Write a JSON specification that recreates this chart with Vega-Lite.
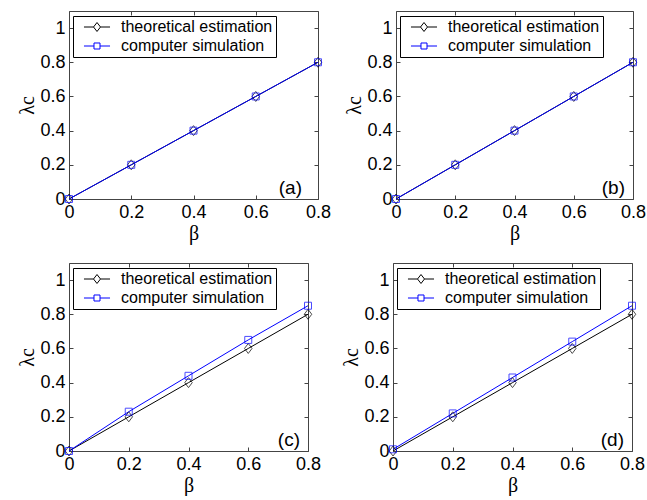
{
  "$schema": "https://vega.github.io/schema/vega-lite/v6.json",
  "background": "white",
  "padding": {"top": 10, "left": 17, "right": 0, "bottom": 0},
  "datasets": {
    "pts": [
      {"panel": "a", "series": "theoretical estimation", "beta": 0, "lambda": 0},
      {"panel": "a", "series": "theoretical estimation", "beta": 0.2, "lambda": 0.2},
      {"panel": "a", "series": "theoretical estimation", "beta": 0.4, "lambda": 0.4},
      {"panel": "a", "series": "theoretical estimation", "beta": 0.6, "lambda": 0.6},
      {"panel": "a", "series": "theoretical estimation", "beta": 0.8, "lambda": 0.8},
      {"panel": "a", "series": "computer simulation", "beta": 0, "lambda": 0},
      {"panel": "a", "series": "computer simulation", "beta": 0.2, "lambda": 0.2},
      {"panel": "a", "series": "computer simulation", "beta": 0.4, "lambda": 0.4},
      {"panel": "a", "series": "computer simulation", "beta": 0.6, "lambda": 0.6},
      {"panel": "a", "series": "computer simulation", "beta": 0.8, "lambda": 0.8},
      {"panel": "b", "series": "theoretical estimation", "beta": 0, "lambda": 0},
      {"panel": "b", "series": "theoretical estimation", "beta": 0.2, "lambda": 0.2},
      {"panel": "b", "series": "theoretical estimation", "beta": 0.4, "lambda": 0.4},
      {"panel": "b", "series": "theoretical estimation", "beta": 0.6, "lambda": 0.6},
      {"panel": "b", "series": "theoretical estimation", "beta": 0.8, "lambda": 0.8},
      {"panel": "b", "series": "computer simulation", "beta": 0, "lambda": 0},
      {"panel": "b", "series": "computer simulation", "beta": 0.2, "lambda": 0.2},
      {"panel": "b", "series": "computer simulation", "beta": 0.4, "lambda": 0.4},
      {"panel": "b", "series": "computer simulation", "beta": 0.6, "lambda": 0.6},
      {"panel": "b", "series": "computer simulation", "beta": 0.8, "lambda": 0.8},
      {"panel": "c", "series": "theoretical estimation", "beta": 0, "lambda": 0},
      {"panel": "c", "series": "theoretical estimation", "beta": 0.2, "lambda": 0.2},
      {"panel": "c", "series": "theoretical estimation", "beta": 0.4, "lambda": 0.4},
      {"panel": "c", "series": "theoretical estimation", "beta": 0.6, "lambda": 0.6},
      {"panel": "c", "series": "theoretical estimation", "beta": 0.8, "lambda": 0.8},
      {"panel": "c", "series": "computer simulation", "beta": 0, "lambda": 0},
      {"panel": "c", "series": "computer simulation", "beta": 0.2, "lambda": 0.23},
      {"panel": "c", "series": "computer simulation", "beta": 0.4, "lambda": 0.44},
      {"panel": "c", "series": "computer simulation", "beta": 0.6, "lambda": 0.65},
      {"panel": "c", "series": "computer simulation", "beta": 0.8, "lambda": 0.85},
      {"panel": "d", "series": "theoretical estimation", "beta": 0, "lambda": 0},
      {"panel": "d", "series": "theoretical estimation", "beta": 0.2, "lambda": 0.2},
      {"panel": "d", "series": "theoretical estimation", "beta": 0.4, "lambda": 0.4},
      {"panel": "d", "series": "theoretical estimation", "beta": 0.6, "lambda": 0.6},
      {"panel": "d", "series": "theoretical estimation", "beta": 0.8, "lambda": 0.8},
      {"panel": "d", "series": "computer simulation", "beta": 0, "lambda": 0.01},
      {"panel": "d", "series": "computer simulation", "beta": 0.2, "lambda": 0.22},
      {"panel": "d", "series": "computer simulation", "beta": 0.4, "lambda": 0.43},
      {"panel": "d", "series": "computer simulation", "beta": 0.6, "lambda": 0.64},
      {"panel": "d", "series": "computer simulation", "beta": 0.8, "lambda": 0.85}
    ]
  },
  "vconcat": [
    {
      "hconcat": [
        {
          "width": 249, "height": 188,
          "layer": [
            {
              "data": {"name": "pts"},
              "transform": [{"filter": "datum.panel == 'a'"}],
              "mark": {"type": "line", "strokeWidth": 1},
              "encoding": {
                "x": {"field": "beta", "type": "quantitative", "scale": {"domain": [0, 0.8], "nice": false, "zero": false}, "axis": {"orient": "bottom", "values": [0, 0.2, 0.4, 0.6, 0.8], "format": "~g", "title": "β"}},
                "y": {"field": "lambda", "type": "quantitative", "scale": {"domain": [0, 1.1], "nice": false, "zero": false}, "axis": {"orient": "left", "values": [0, 0.2, 0.4, 0.6, 0.8, 1], "format": "~g", "title": "λc"}},
                "color": {"field": "series", "type": "nominal", "scale": {"domain": ["theoretical estimation", "computer simulation"], "range": ["black", "blue"]},
                  "legend": {"title": null, "encode": {"symbols": {"update": {"shape": {"signal": "datum.value == 'theoretical estimation' ? 'M-1.86,0L-0.5,0M0.5,0L1.86,0M0,-0.64L0.5,0L0,0.64L-0.5,0Z' : 'M-1.86,0L-0.43,0M0.43,0L1.86,0M-0.43,-0.43L0.43,-0.43L0.43,0.43L-0.43,0.43Z'"}, "fill": {"value": "transparent"}, "strokeWidth": {"value": 1}}}}}}
              }
            },
            {
              "data": {"name": "pts"},
              "transform": [{"filter": "datum.panel == 'a' && datum.series == 'theoretical estimation'"}],
              "mark": {"type": "point", "filled": false, "strokeWidth": 1, "size": 100, "color": "black", "shape": "M0,-1L0.75,0L0,1L-0.75,0Z"},
              "encoding": {
                "x": {"field": "beta", "type": "quantitative", "axis": {"orient": "top", "values": [0, 0.2, 0.4, 0.6, 0.8], "labels": false, "title": null}},
                "y": {"field": "lambda", "type": "quantitative", "axis": {"orient": "right", "values": [0, 0.2, 0.4, 0.6, 0.8, 1], "labels": false, "title": null}}
              }
            },
            {
              "data": {"name": "pts"},
              "transform": [{"filter": "datum.panel == 'a' && datum.series == 'computer simulation'"}],
              "mark": {"type": "point", "filled": false, "strokeWidth": 1, "size": 100, "color": "blue", "shape": "M-0.7,-0.7L0.7,-0.7L0.7,0.7L-0.7,0.7Z"},
              "encoding": {
                "x": {"field": "beta", "type": "quantitative", "axis": null},
                "y": {"field": "lambda", "type": "quantitative", "axis": null}
              }
            },
            {
              "data": {"values": [{"label": "(a)"}]},
              "mark": {"type": "text", "align": "right", "baseline": "alphabetic", "dx": -16, "dy": -5, "font": "Liberation Sans", "fontSize": 19, "color": "black"},
              "encoding": {
                "x": {"datum": 0.8, "type": "quantitative", "axis": null},
                "y": {"datum": 0, "type": "quantitative", "axis": null},
                "text": {"field": "label"}
              }
            }
          ],
          "resolve": {"axis": {"x": "independent", "y": "independent"}}
        },
        {
          "width": 237, "height": 188,
          "layer": [
            {
              "data": {"name": "pts"},
              "transform": [{"filter": "datum.panel == 'b'"}],
              "mark": {"type": "line", "strokeWidth": 1},
              "encoding": {
                "x": {"field": "beta", "type": "quantitative", "scale": {"domain": [0, 0.8], "nice": false, "zero": false}, "axis": {"orient": "bottom", "values": [0, 0.2, 0.4, 0.6, 0.8], "format": "~g", "title": "β"}},
                "y": {"field": "lambda", "type": "quantitative", "scale": {"domain": [0, 1.1], "nice": false, "zero": false}, "axis": {"orient": "left", "values": [0, 0.2, 0.4, 0.6, 0.8, 1], "format": "~g", "title": "λc"}},
                "color": {"field": "series", "type": "nominal", "scale": {"domain": ["theoretical estimation", "computer simulation"], "range": ["black", "blue"]},
                  "legend": {"title": null, "encode": {"symbols": {"update": {"shape": {"signal": "datum.value == 'theoretical estimation' ? 'M-1.86,0L-0.5,0M0.5,0L1.86,0M0,-0.64L0.5,0L0,0.64L-0.5,0Z' : 'M-1.86,0L-0.43,0M0.43,0L1.86,0M-0.43,-0.43L0.43,-0.43L0.43,0.43L-0.43,0.43Z'"}, "fill": {"value": "transparent"}, "strokeWidth": {"value": 1}}}}}}
              }
            },
            {
              "data": {"name": "pts"},
              "transform": [{"filter": "datum.panel == 'b' && datum.series == 'theoretical estimation'"}],
              "mark": {"type": "point", "filled": false, "strokeWidth": 1, "size": 100, "color": "black", "shape": "M0,-1L0.75,0L0,1L-0.75,0Z"},
              "encoding": {
                "x": {"field": "beta", "type": "quantitative", "axis": {"orient": "top", "values": [0, 0.2, 0.4, 0.6, 0.8], "labels": false, "title": null}},
                "y": {"field": "lambda", "type": "quantitative", "axis": {"orient": "right", "values": [0, 0.2, 0.4, 0.6, 0.8, 1], "labels": false, "title": null}}
              }
            },
            {
              "data": {"name": "pts"},
              "transform": [{"filter": "datum.panel == 'b' && datum.series == 'computer simulation'"}],
              "mark": {"type": "point", "filled": false, "strokeWidth": 1, "size": 100, "color": "blue", "shape": "M-0.7,-0.7L0.7,-0.7L0.7,0.7L-0.7,0.7Z"},
              "encoding": {
                "x": {"field": "beta", "type": "quantitative", "axis": null},
                "y": {"field": "lambda", "type": "quantitative", "axis": null}
              }
            },
            {
              "data": {"values": [{"label": "(b)"}]},
              "mark": {"type": "text", "align": "right", "baseline": "alphabetic", "dx": -8, "dy": -5, "font": "Liberation Sans", "fontSize": 19, "color": "black"},
              "encoding": {
                "x": {"datum": 0.8, "type": "quantitative", "axis": null},
                "y": {"datum": 0, "type": "quantitative", "axis": null},
                "text": {"field": "label"}
              }
            }
          ],
          "resolve": {"axis": {"x": "independent", "y": "independent"}}
        }
      ],
      "spacing": 12,
      "resolve": {"scale": {"color": "independent"}, "legend": {"color": "independent"}}
    },
    {
      "hconcat": [
        {
          "width": 239, "height": 188,
          "layer": [
            {
              "data": {"name": "pts"},
              "transform": [{"filter": "datum.panel == 'c'"}],
              "mark": {"type": "line", "strokeWidth": 1},
              "encoding": {
                "x": {"field": "beta", "type": "quantitative", "scale": {"domain": [0, 0.8], "nice": false, "zero": false}, "axis": {"orient": "bottom", "values": [0, 0.2, 0.4, 0.6, 0.8], "format": "~g", "title": "β"}},
                "y": {"field": "lambda", "type": "quantitative", "scale": {"domain": [0, 1.1], "nice": false, "zero": false}, "axis": {"orient": "left", "values": [0, 0.2, 0.4, 0.6, 0.8, 1], "format": "~g", "title": "λc"}},
                "color": {"field": "series", "type": "nominal", "scale": {"domain": ["theoretical estimation", "computer simulation"], "range": ["black", "blue"]},
                  "legend": {"title": null, "encode": {"symbols": {"update": {"shape": {"signal": "datum.value == 'theoretical estimation' ? 'M-1.86,0L-0.5,0M0.5,0L1.86,0M0,-0.64L0.5,0L0,0.64L-0.5,0Z' : 'M-1.86,0L-0.43,0M0.43,0L1.86,0M-0.43,-0.43L0.43,-0.43L0.43,0.43L-0.43,0.43Z'"}, "fill": {"value": "transparent"}, "strokeWidth": {"value": 1}}}}}}
              }
            },
            {
              "data": {"name": "pts"},
              "transform": [{"filter": "datum.panel == 'c' && datum.series == 'theoretical estimation'"}],
              "mark": {"type": "point", "filled": false, "strokeWidth": 1, "size": 100, "color": "black", "shape": "M0,-1L0.75,0L0,1L-0.75,0Z"},
              "encoding": {
                "x": {"field": "beta", "type": "quantitative", "axis": {"orient": "top", "values": [0, 0.2, 0.4, 0.6, 0.8], "labels": false, "title": null}},
                "y": {"field": "lambda", "type": "quantitative", "axis": {"orient": "right", "values": [0, 0.2, 0.4, 0.6, 0.8, 1], "labels": false, "title": null}}
              }
            },
            {
              "data": {"name": "pts"},
              "transform": [{"filter": "datum.panel == 'c' && datum.series == 'computer simulation'"}],
              "mark": {"type": "point", "filled": false, "strokeWidth": 1, "size": 100, "color": "blue", "shape": "M-0.7,-0.7L0.7,-0.7L0.7,0.7L-0.7,0.7Z"},
              "encoding": {
                "x": {"field": "beta", "type": "quantitative", "axis": null},
                "y": {"field": "lambda", "type": "quantitative", "axis": null}
              }
            },
            {
              "data": {"values": [{"label": "(c)"}]},
              "mark": {"type": "text", "align": "right", "baseline": "alphabetic", "dx": -8, "dy": -5, "font": "Liberation Sans", "fontSize": 19, "color": "black"},
              "encoding": {
                "x": {"datum": 0.8, "type": "quantitative", "axis": null},
                "y": {"datum": 0, "type": "quantitative", "axis": null},
                "text": {"field": "label"}
              }
            }
          ],
          "resolve": {"axis": {"x": "independent", "y": "independent"}}
        },
        {
          "width": 239, "height": 188,
          "layer": [
            {
              "data": {"name": "pts"},
              "transform": [{"filter": "datum.panel == 'd'"}],
              "mark": {"type": "line", "strokeWidth": 1},
              "encoding": {
                "x": {"field": "beta", "type": "quantitative", "scale": {"domain": [0, 0.8], "nice": false, "zero": false}, "axis": {"orient": "bottom", "values": [0, 0.2, 0.4, 0.6, 0.8], "format": "~g", "title": "β"}},
                "y": {"field": "lambda", "type": "quantitative", "scale": {"domain": [0, 1.1], "nice": false, "zero": false}, "axis": {"orient": "left", "values": [0, 0.2, 0.4, 0.6, 0.8, 1], "format": "~g", "title": "λc"}},
                "color": {"field": "series", "type": "nominal", "scale": {"domain": ["theoretical estimation", "computer simulation"], "range": ["black", "blue"]},
                  "legend": {"title": null, "encode": {"symbols": {"update": {"shape": {"signal": "datum.value == 'theoretical estimation' ? 'M-1.86,0L-0.5,0M0.5,0L1.86,0M0,-0.64L0.5,0L0,0.64L-0.5,0Z' : 'M-1.86,0L-0.43,0M0.43,0L1.86,0M-0.43,-0.43L0.43,-0.43L0.43,0.43L-0.43,0.43Z'"}, "fill": {"value": "transparent"}, "strokeWidth": {"value": 1}}}}}}
              }
            },
            {
              "data": {"name": "pts"},
              "transform": [{"filter": "datum.panel == 'd' && datum.series == 'theoretical estimation'"}],
              "mark": {"type": "point", "filled": false, "strokeWidth": 1, "size": 100, "color": "black", "shape": "M0,-1L0.75,0L0,1L-0.75,0Z"},
              "encoding": {
                "x": {"field": "beta", "type": "quantitative", "axis": {"orient": "top", "values": [0, 0.2, 0.4, 0.6, 0.8], "labels": false, "title": null}},
                "y": {"field": "lambda", "type": "quantitative", "axis": {"orient": "right", "values": [0, 0.2, 0.4, 0.6, 0.8, 1], "labels": false, "title": null}}
              }
            },
            {
              "data": {"name": "pts"},
              "transform": [{"filter": "datum.panel == 'd' && datum.series == 'computer simulation'"}],
              "mark": {"type": "point", "filled": false, "strokeWidth": 1, "size": 100, "color": "blue", "shape": "M-0.7,-0.7L0.7,-0.7L0.7,0.7L-0.7,0.7Z"},
              "encoding": {
                "x": {"field": "beta", "type": "quantitative", "axis": null},
                "y": {"field": "lambda", "type": "quantitative", "axis": null}
              }
            },
            {
              "data": {"values": [{"label": "(d)"}]},
              "mark": {"type": "text", "align": "right", "baseline": "alphabetic", "dx": -8, "dy": -5, "font": "Liberation Sans", "fontSize": 19, "color": "black"},
              "encoding": {
                "x": {"datum": 0.8, "type": "quantitative", "axis": null},
                "y": {"datum": 0, "type": "quantitative", "axis": null},
                "text": {"field": "label"}
              }
            }
          ],
          "resolve": {"axis": {"x": "independent", "y": "independent"}}
        }
      ],
      "spacing": 19,
      "resolve": {"scale": {"color": "independent"}, "legend": {"color": "independent"}}
    }
  ],
  "spacing": 18,
  "resolve": {"scale": {"color": "independent"}, "legend": {"color": "independent"}},
  "config": {
    "view": {"stroke": "#444", "strokeWidth": 1},
    "axis": {
      "domain": false, "grid": false,
      "tickColor": "#444", "tickSize": -4, "tickWidth": 1,
      "labelFont": "Liberation Sans", "labelFontSize": 18, "labelColor": "black", "labelPadding": 8, "labelFlush": false, "labelOverlap": false,
      "titleFont": "Liberation Serif", "titleFontSize": 20, "titleFontWeight": "normal", "titleColor": "black", "titlePadding": 2
    },
    "legend": {
      "orient": "none", "legendX": 4, "legendY": 5,
      "strokeColor": "black", "fillColor": "white", "padding": 3,
      "labelFont": "Liberation Sans", "labelFontSize": 16, "labelColor": "black",
      "symbolSize": 196, "symbolOffset": 13, "labelOffset": 16, "rowPadding": 3, "symbolStrokeWidth": 1
    }
  }
}
